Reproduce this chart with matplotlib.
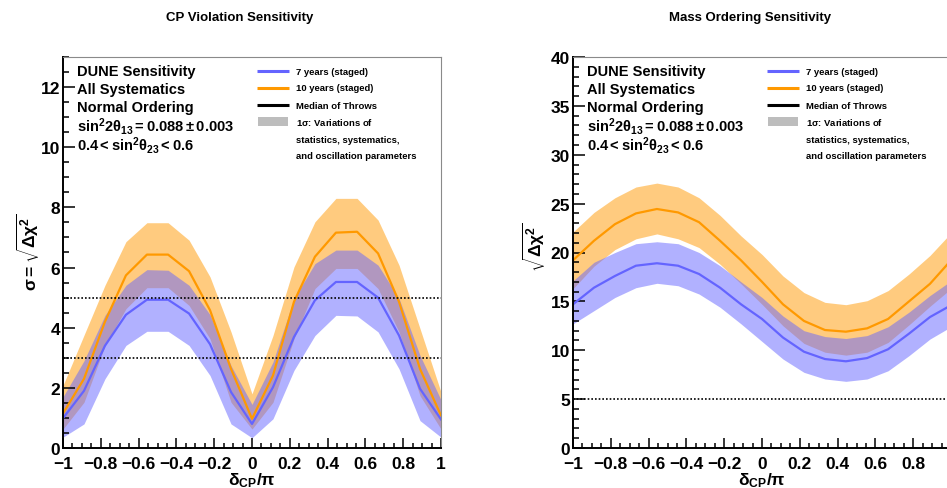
import numpy as np
import matplotlib
matplotlib.use('Agg')
import matplotlib.pyplot as plt
from matplotlib.ticker import MultipleLocator
from matplotlib.patches import Rectangle

plt.rcParams['font.family'] = ['Liberation Sans', 'DejaVu Sans']
plt.rcParams['font.weight'] = 'bold'
plt.rcParams['mathtext.fontset'] = 'custom'
plt.rcParams['mathtext.rm'] = 'Liberation Sans:bold'
plt.rcParams['mathtext.it'] = 'Liberation Sans:bold'
plt.rcParams['mathtext.bf'] = 'Liberation Sans:bold'
plt.rcParams['mathtext.sf'] = 'Liberation Sans:bold'

# delta_CP / pi grid of the curves
delta_cp = [-1.0, -0.889, -0.778, -0.667, -0.556, -0.444, -0.333, -0.222, -0.111, 0.0,
            0.111, 0.222, 0.333, 0.444, 0.556, 0.667, 0.778, 0.889, 1.0]

# CP violation sensitivity (sigma)
cpv_7yr_med = [0.99, 1.9, 3.4, 4.43, 4.93, 4.93, 4.47, 3.45, 1.86, 0.8,
               2.02, 3.69, 4.91, 5.52, 5.52, 5.0, 3.74, 1.97, 0.95]
cpv_7yr_lo = [0.36, 0.8, 2.3, 3.41, 3.88, 3.88, 3.41, 2.41, 0.8, 0.34,
              0.97, 2.58, 3.74, 4.41, 4.39, 3.86, 2.63, 0.91, 0.36]
cpv_7yr_hi = [1.7, 2.9, 4.41, 5.41, 5.93, 5.91, 5.41, 4.43, 2.74, 1.45,
              2.86, 4.97, 6.13, 6.58, 6.58, 6.08, 4.97, 3.08, 1.6]
cpv_10yr_med = [1.15, 2.3, 4.2, 5.74, 6.43, 6.43, 5.88, 4.58, 2.63, 0.97,
                2.41, 4.86, 6.36, 7.16, 7.19, 6.47, 4.86, 2.63, 1.08]
cpv_10yr_lo = [0.63, 1.52, 3.4, 4.63, 5.33, 5.33, 4.74, 3.63, 1.52, 0.63,
               1.52, 3.63, 5.3, 5.97, 5.97, 5.3, 3.86, 1.74, 0.63]
cpv_10yr_hi = [2.08, 3.75, 5.41, 6.86, 7.49, 7.49, 6.91, 5.69, 3.86, 1.8,
               3.74, 6.02, 7.52, 8.3, 8.3, 7.58, 6.08, 3.97, 1.86]

# mass ordering sensitivity (sqrt dchi2)
mo_7yr_med = [14.7, 16.4, 17.6, 18.65, 18.9, 18.65, 17.8, 16.4, 14.7, 13.2,
              11.3, 9.85, 9.1, 8.87, 9.2, 10.1, 11.7, 13.4, 14.6]
mo_7yr_lo = [12.7, 14.05, 15.4, 16.4, 16.85, 16.6, 15.75, 14.4, 12.7, 10.9,
             9.1, 7.74, 7.06, 6.82, 7.06, 7.9, 9.45, 11.15, 12.4]
mo_7yr_hi = [17.1, 19.0, 20.0, 20.9, 21.1, 20.9, 20.0, 18.65, 17.0, 15.4,
             13.5, 12.0, 11.4, 11.2, 11.5, 12.4, 13.9, 15.6, 17.1]
mo_10yr_med = [19.2, 21.2, 22.9, 24.0, 24.45, 24.1, 23.1, 21.2, 19.2, 17.0,
               14.7, 13.0, 12.07, 11.9, 12.24, 13.2, 15.0, 16.8, 19.2]
mo_10yr_lo = [16.3, 18.6, 20.3, 21.4, 21.9, 21.4, 20.5, 18.8, 16.8, 14.7,
              12.5, 10.7, 9.8, 9.5, 9.8, 10.8, 12.6, 14.5, 16.3]
mo_10yr_hi = [22.1, 24.1, 25.6, 26.7, 27.1, 26.7, 25.6, 23.8, 21.7, 19.8,
              17.6, 15.9, 14.9, 14.66, 15.07, 16.1, 17.8, 19.7, 22.0]

x_ticks = [-1, -0.8, -0.6, -0.4, -0.2, 0, 0.2, 0.4, 0.6, 0.8, 1]
x_ticklabels = ['\u22121', '\u22120.8', '\u22120.6', '\u22120.4', '\u22120.2',
                '0', '0.2', '0.4', '0.6', '0.8', '1']

blue = (100/255, 100/255, 1.0)
orange = (1.0, 153/255, 0.0)

info_lines = ['DUNE Sensitivity', 'All Systematics', 'Normal Ordering',
              r'$\mathbf{sin^{2}2\theta_{13} = 0.088 \pm 0.003}$',
              r'$\mathbf{0.4 < sin^{2}\theta_{23} < 0.6}$']
legend_labels = ['7 years (staged)', '10 years (staged)', 'Median of Throws',
                 r'1$\mathbf{\sigma}$: Variations of', 'statistics, systematics,',
                 'and oscillation parameters']

W, H = 947, 489
fig = plt.figure(figsize=(W/100, H/100), dpi=100)
ax1 = fig.add_axes([63/W, 40/H, 378/W, 391/H])
ax2 = fig.add_axes([573/W, 40/H, 378/W, 391/H])


def draw_panel(ax, med7, lo7, hi7, med10, lo10, hi10, ylim, major, minor, hlines, xlabels):
    ax.fill_between(delta_cp, lo10, hi10, color=orange, alpha=0.5, lw=0)
    ax.plot(delta_cp, med10, color=orange, lw=1.6)
    ax.fill_between(delta_cp, lo7, hi7, color=blue, alpha=0.5, lw=0)
    ax.plot(delta_cp, med7, color=blue, lw=1.6)
    for h in hlines:
        ax.axhline(h, color='black', lw=1.2, ls=(0, (1, 1.2)))
    ax.set_xlim(-1, 1)
    ax.set_ylim(*ylim)
    ax.xaxis.set_minor_locator(MultipleLocator(0.05))
    ax.yaxis.set_major_locator(MultipleLocator(major))
    ax.yaxis.set_minor_locator(MultipleLocator(minor))
    ax.tick_params(axis='both', which='both', direction='in', width=1.1,
                   labelsize=12.5, top=False, right=False)
    ax.tick_params(axis='y', which='major', length=8.5, pad=2)
    ax.tick_params(axis='y', which='minor', length=4.3)
    ax.tick_params(axis='x', which='major', length=7, pad=6)
    ax.tick_params(axis='x', which='minor', length=3.6)
    ax.set_xticks(x_ticks)
    ax.set_xticklabels(xlabels)
    for lab in ax.get_xticklabels() + ax.get_yticklabels():
        lab.set_fontweight('bold')
    ax.spines['left'].set_linewidth(1.4)
    ax.spines['bottom'].set_linewidth(1.4)
    for s in ('top', 'right'):
        ax.spines[s].set_color('#8a8a8a')
        ax.spines[s].set_linewidth(0.8)

    # info text
    ys = [0.964, 0.918, 0.872, 0.824, 0.775]
    for t, y in zip(info_lines, ys):
        ax.text(0.037, y, t, transform=ax.transAxes, fontsize=10.5,
                fontweight='bold', va='center', ha='left')

    # legend
    ly = [0.964, 0.921, 0.877, 0.834, 0.790, 0.747]
    for c, y in zip([blue, orange, 'black'], ly[:3]):
        ax.plot([0.513, 0.598], [y, y], color=c, lw=2.2, transform=ax.transAxes,
                solid_capstyle='butt')
    ax.add_patch(Rectangle((0.515, 0.823), 0.08, 0.024, transform=ax.transAxes,
                           color='#bdbdbd', lw=0))
    for t, y in zip(legend_labels, ly):
        ax.text(0.616, y, t, transform=ax.transAxes, fontsize=6.8,
                fontweight='bold', va='center', ha='left')


draw_panel(ax1, cpv_7yr_med, cpv_7yr_lo, cpv_7yr_hi,
           cpv_10yr_med, cpv_10yr_lo, cpv_10yr_hi, (0, 13), 2, 0.5, [3, 5],
           x_ticklabels)
# the last label of the right panel falls outside the picture
draw_panel(ax2, mo_7yr_med, mo_7yr_lo, mo_7yr_hi,
           mo_10yr_med, mo_10yr_lo, mo_10yr_hi, (0, 40), 5, 1, [5],
           x_ticklabels[:-1] + [''])

# titles and axis labels
fig.text(240/W, 1 - 18/H, 'CP Violation Sensitivity', ha='center', va='center',
         fontsize=9.5, fontweight='bold')
fig.text(750/W, 1 - 18/H, 'Mass Ordering Sensitivity', ha='center', va='center',
         fontsize=9.5, fontweight='bold')
fig.text(28/W, 1 - 252/H, r'$\mathbf{\sigma = \sqrt{\Delta\chi^{2}}}$', rotation=90,
         ha='center', va='center', fontsize=12.5)
fig.text(534/W, 1 - 247/H, r'$\mathbf{\sqrt{\Delta\chi^{2}}}$', rotation=90,
         ha='center', va='center', fontsize=12.5)
fig.text(252/W, 1 - 471/H, r'$\mathbf{\delta_{CP}/\pi}$', ha='center', va='top',
         fontsize=12.5)
fig.text(762/W, 1 - 471/H, r'$\mathbf{\delta_{CP}/\pi}$', ha='center', va='top',
         fontsize=12.5)

fig.savefig('out.png', dpi=100)
